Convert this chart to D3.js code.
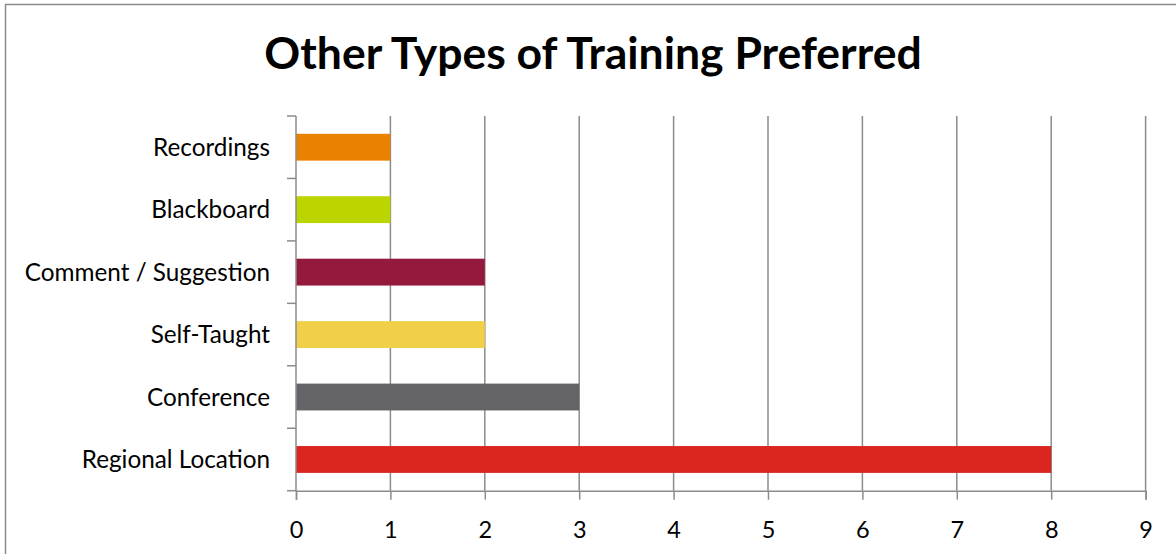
<!DOCTYPE html>
<html>
<head>
<meta charset="utf-8">
<script src="https://cdn.jsdelivr.net/npm/d3@7"></script>
<style>
  html, body { margin: 0; padding: 0; background: #fff; }
  svg { display: block; font-family: Lato, "Open Sans", sans-serif; }
</style>
</head>
<body>
<svg id="chart" width="1176" height="554"></svg>
<script>
// Training types, listed top to bottom
const categories = ["Recordings", "Blackboard", "Comment / Suggestion", "Self-Taught", "Conference", "Regional Location"];
const counts = [1, 1, 2, 2, 3, 8];
const barColors = ["#EA8200", "#BCD400", "#95183D", "#F2CF48", "#636368", "#DB2620"];
const xTicks = [0, 1, 2, 3, 4, 5, 6, 7, 8, 9];
const title = "Other Types of Training Preferred";

const svg = d3.select("#chart");
const gridColor = "#8c8c8c";

// Outer frame
svg.append("rect")
  .attr("x", 5.5).attr("y", 4.5)
  .attr("width", 1180).attr("height", 560)
  .attr("fill", "#fff").attr("stroke", "#8a8a8a").attr("stroke-width", 1.5);

// Title
svg.append("text")
  .attr("x", 593).attr("y", 69)
  .attr("text-anchor", "middle")
  .attr("font-weight", "bold")
  .attr("font-size", 44.5)
  .attr("fill", "#000")
  .text(title);

const plot = { left: 296, right: 1145.6, top: 116, bottom: 490.7 };

const x = d3.scaleLinear().domain([0, 9]).range([plot.left, plot.right]);
const y = d3.scaleBand().domain(categories)
  .range([plot.top, plot.bottom])
  .paddingInner(0.57).paddingOuter(0.285);

// Vertical gridlines
svg.append("g").selectAll("line")
  .data(xTicks.slice(1))
  .join("line")
  .attr("x1", d => x(d)).attr("x2", d => x(d))
  .attr("y1", plot.top).attr("y2", plot.bottom)
  .attr("stroke", gridColor).attr("stroke-width", 1.5);

// Bars
svg.append("g").selectAll("rect")
  .data(categories)
  .join("rect")
  .attr("x", x(0))
  .attr("y", d => y(d))
  .attr("width", (d, i) => x(counts[i]) - x(0))
  .attr("height", y.bandwidth())
  .attr("fill", (d, i) => barColors[i]);

// Category axis: ticks sit on band boundaries
const step = y.step();
const boundaries = d3.range(categories.length + 1).map(i => plot.top + i * step);
const yAxis = svg.append("g");
yAxis.append("line")
  .attr("x1", plot.left).attr("x2", plot.left)
  .attr("y1", plot.top).attr("y2", plot.bottom)
  .attr("stroke", gridColor).attr("stroke-width", 1.5);
yAxis.selectAll("line.tick")
  .data(boundaries)
  .join("line").attr("class", "tick")
  .attr("x1", plot.left - 9).attr("x2", plot.left)
  .attr("y1", d => d).attr("y2", d => d)
  .attr("stroke", gridColor).attr("stroke-width", 1.5);
yAxis.selectAll("text")
  .data(categories)
  .join("text")
  .attr("x", 270)
  .attr("y", d => y(d) + y.bandwidth() / 2)
  .attr("dy", "0.35em")
  .attr("text-anchor", "end")
  .attr("font-size", 24.3)
  .attr("fill", "#000")
  .text(d => d);

// Value axis along the bottom
const xAxis = svg.append("g")
  .attr("transform", `translate(0,${plot.bottom})`)
  .call(d3.axisBottom(x).tickValues(xTicks).tickSize(9).tickPadding(22).tickFormat(d3.format("d")));
xAxis.select(".domain").attr("stroke", gridColor).attr("stroke-width", 1.5);
xAxis.selectAll(".tick line").attr("stroke", gridColor).attr("stroke-width", 1.5);
xAxis.selectAll(".tick text")
  .attr("font-size", 23.5)
  .attr("font-family", "Lato, 'Open Sans', sans-serif")
  .attr("fill", "#000");
</script>
</body>
</html>
